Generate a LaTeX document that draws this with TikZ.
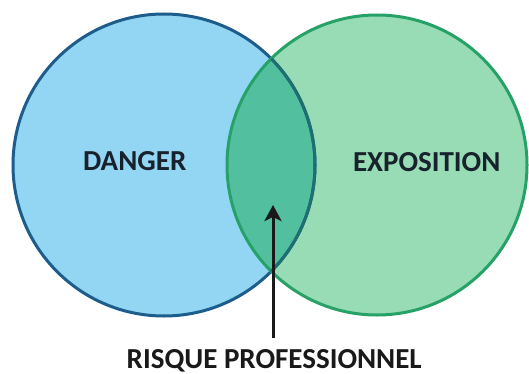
\documentclass[tikz,border=0pt]{standalone}
\usepackage{fontspec}
\setmainfont{Carlito}
\usetikzlibrary{arrows.meta}
\definecolor{bluefill}{HTML}{92D6F4}
\definecolor{greenfill}{HTML}{97DCB5}
\definecolor{overfill}{HTML}{52BF9E}
\definecolor{bluestroke}{HTML}{1D5D8C}
\definecolor{greenstroke}{HTML}{27A267}
\definecolor{tealstroke}{HTML}{1E7070}
\definecolor{textdark}{HTML}{18222C}
\tikzset{
  lbl/.style={font=\fontsize{29}{34}\selectfont\bfseries, text=textdark, inner sep=0pt, anchor=base},
  ring/.style={line width=3pt},
}
\begin{document}
\begin{tikzpicture}[x=1pt,y=-1pt]
\useasboundingbox[fill=white] (0,0) rectangle (529,374);
\coordinate (cl) at (164,165);
\coordinate (cr) at (377,165);
% fills
\fill[bluefill] (cl) circle (151pt);
\fill[greenfill] (cr) circle (150pt);
\begin{scope}
  \clip (cl) circle (151pt);
  \fill[overfill] (cr) circle (150pt);
\end{scope}
% strokes
\draw[ring, bluestroke] (cl) circle (151pt);
\draw[ring, greenstroke] (cr) circle (150pt);
\begin{scope}
  \clip (cr) circle (150pt);
  \draw[ring, tealstroke] (cl) circle (151pt);
\end{scope}
% labels
\node[lbl] (danger) at (134.7,170.7) {DANGER};
\node[lbl] (expo) at (426.7,171) {EXPOSITION};
\node[lbl, text=black!90] (risk) at (274.2,368.3) {RISQUE PROFESSIONNEL};
% arrow
\coordinate (tip) at (273,205);
\coordinate (start) at (273,338);
\draw[line width=3pt, black!90, -{Stealth[length=16pt,width=17pt,inset=4pt]}] (start) -- (tip);
\end{tikzpicture}
\end{document}
